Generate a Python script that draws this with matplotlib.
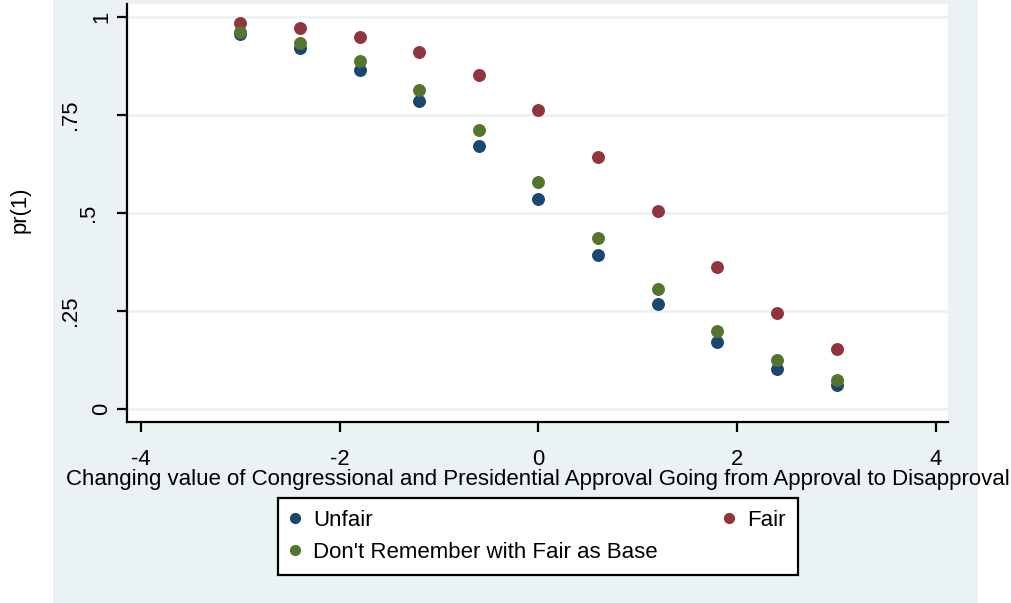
import matplotlib.pyplot as plt
from matplotlib.patches import Rectangle

plt.rcParams['font.family'] = ['Liberation Sans', 'DejaVu Sans']

# approval index, from approval (-3) to disapproval (3)
approval = [-3, -2.4, -1.8, -1.2, -0.6, 0, 0.6, 1.2, 1.8, 2.4, 3]

# predicted pr(1) for each group
unfair = [0.957, 0.921, 0.865, 0.786, 0.671, 0.535, 0.392, 0.268, 0.171, 0.102, 0.062]
fair = [0.984, 0.972, 0.950, 0.910, 0.853, 0.762, 0.643, 0.505, 0.363, 0.244, 0.153]
dont_remember = [0.961, 0.933, 0.888, 0.813, 0.711, 0.579, 0.437, 0.306, 0.198, 0.124, 0.074]

x_ticks = [-4, -2, 0, 2, 4]
y_ticks = [0, 0.25, 0.5, 0.75, 1]
y_ticklabels = ['0', '.25', '.5', '.75', '1']
# stata puts the rotated labels at uneven distances from the axis
y_label_x = [-0.031, -0.069, -0.047, -0.069, -0.031]

navy = '#1a476f'
maroon = '#90353b'
green = '#55752f'
region = '#eaf2f3'
fs = 15.8

fig = plt.figure(figsize=(10.11, 6.03), dpi=100)
fig.add_artist(Rectangle((53 / 1011, 0), (978 - 53) / 1011, 1,
                         transform=fig.transFigure, facecolor=region,
                         edgecolor='none', zorder=-10))

ax = fig.add_axes([127 / 1011, 181 / 603, (948 - 127) / 1011, (422 - 4) / 603])
ax.set_facecolor('white')

ms = 8.3
ax.plot(approval, unfair, 'o', color=navy, ms=ms, label='Unfair', zorder=3)
ax.plot(approval, fair, 'o', color=maroon, ms=ms, label='Fair', zorder=3)
ax.plot(approval, dont_remember, 'o', color=green, ms=ms,
        label="Don't Remember with Fair as Base", zorder=3)

ax.set_xlim(-4.14, 4.12)
ax.set_ylim(-0.033, 1.033)
ax.set_xticks(x_ticks)
ax.set_xticklabels([str(t) for t in x_ticks])
ax.set_yticks(y_ticks)
ax.set_yticklabels([])
for y, lab, xa in zip(y_ticks, y_ticklabels, y_label_x):
    ax.text(xa, y, lab, transform=ax.get_yaxis_transform(), rotation=90,
            ha='center', va='center', fontsize=fs, clip_on=False)

for y in y_ticks:
    ax.axhline(y, color=region, lw=2, zorder=1)

for side in ['top', 'right']:
    ax.spines[side].set_visible(False)
for side in ['left', 'bottom']:
    ax.spines[side].set_linewidth(1.6)
ax.tick_params(axis='both', direction='out', length=7, width=1.6, labelsize=fs)
ax.tick_params(axis='x', pad=12.5)

ax.set_xlabel('Changing value of Congressional and Presidential Approval Going from Approval to Disapproval',
              fontsize=16, labelpad=-1)
ax.set_ylabel('pr(1)', fontsize=fs, va='center')
ax.yaxis.set_label_coords(-0.130, 0.507)

handles, labels = ax.get_legend_handles_labels()
order = [0, 2, 1]
leg = ax.legend([handles[i] for i in order], [labels[i] for i in order],
                ncol=2, loc='upper left', bbox_to_anchor=(278 / 1011, 105 / 603),
                bbox_transform=fig.transFigure, fontsize=16, frameon=True,
                fancybox=False, edgecolor='black', facecolor='white', framealpha=1,
                borderpad=0.55, labelspacing=0.48, handletextpad=0.62,
                handlelength=0.4, columnspacing=3.0, markerscale=0.85,
                borderaxespad=0)
leg.get_frame().set_linewidth(1.6)

fig.savefig('out.png', dpi=100)
